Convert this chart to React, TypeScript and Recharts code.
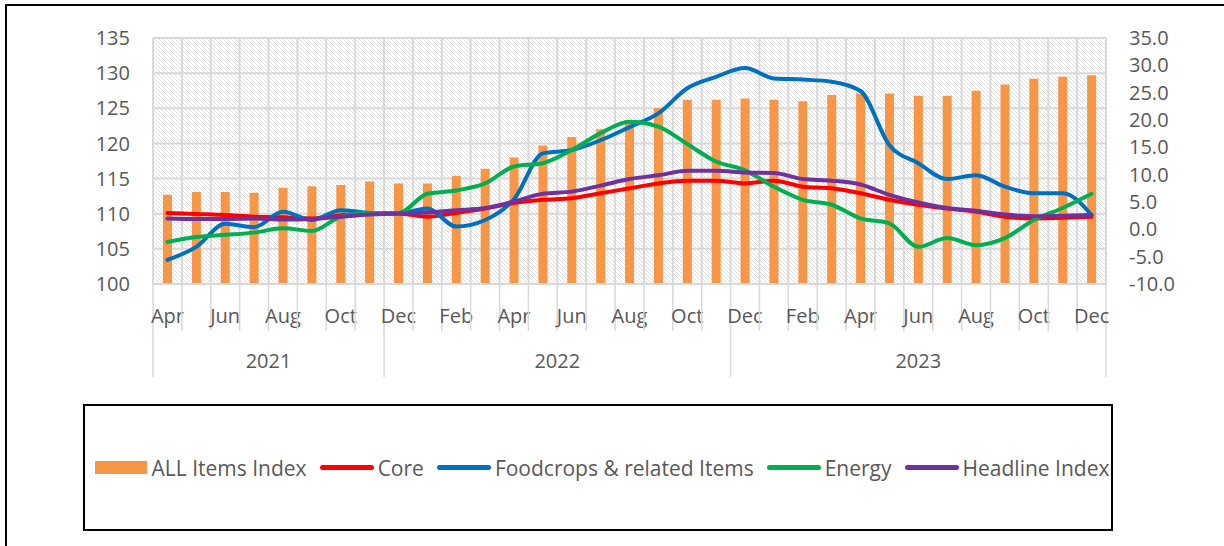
import React from "react";
import {
  ComposedChart,
  Bar,
  Line,
  XAxis,
  YAxis,
  CartesianGrid,
  Legend,
} from "recharts";

const months = [
  "Apr", "May", "Jun", "Jul", "Aug", "Sep", "Oct", "Nov", "Dec",
  "Jan", "Feb", "Mar", "Apr", "May", "Jun", "Jul", "Aug", "Sep", "Oct", "Nov", "Dec",
  "Jan", "Feb", "Mar", "Apr", "May", "Jun", "Jul", "Aug", "Sep", "Oct", "Nov", "Dec",
];

const yearLabels = ["2021", "2022", "2023"];
const yearGroupStarts = [0, 8, 20];

const allItems = [
  112.7, 113.1, 113.1, 113.0, 113.7, 113.9, 114.1, 114.6, 114.3,
  114.3, 115.4, 116.4, 118.0, 119.7, 120.9, 122.0, 123.3, 125.0, 126.2, 126.2, 126.4,
  126.2, 126.0, 126.9, 127.1, 127.1, 126.8, 126.8, 127.5, 128.4, 129.2, 129.5, 129.7,
];

const core = [
  3.0, 2.8, 2.6, 2.3, 2.2, 2.0, 2.6, 2.9, 2.9,
  2.3, 3.0, 3.8, 4.8, 5.4, 5.7, 6.6, 7.5, 8.4, 8.9, 8.9, 8.4,
  8.9, 7.8, 7.5, 6.6, 5.4, 4.5, 3.8, 3.2, 2.3, 2.0, 2.1, 2.3,
];

const foodcrops = [
  -5.6, -3.2, 1.0, 0.4, 3.2, 1.7, 3.5, 3.0, 2.9,
  3.8, 0.5, 1.7, 5.5, 13.9, 14.5, 16.3, 18.7, 21.2, 25.8, 27.9, 29.5,
  27.6, 27.4, 27.0, 25.3, 15.4, 12.1, 9.2, 9.9, 7.8, 6.6, 6.6, 2.6,
];

const energy = [
  -2.3, -1.4, -1.0, -0.6, 0.2, -0.3, 2.3, 3.0, 3.0,
  6.5, 7.1, 8.4, 11.5, 12.1, 14.5, 17.6, 19.7, 18.8, 15.6, 12.4, 10.8,
  7.8, 5.4, 4.5, 2.0, 1.1, -3.2, -1.6, -2.9, -1.6, 1.7, 3.9, 6.5,
];

const headline = [
  2.0, 1.9, 1.9, 2.0, 1.8, 1.9, 2.3, 2.7, 2.9,
  3.1, 3.5, 3.9, 5.1, 6.5, 6.9, 8.0, 9.2, 9.9, 10.7, 10.7, 10.4,
  10.3, 9.2, 8.9, 8.2, 6.3, 4.9, 3.9, 3.4, 2.7, 2.4, 2.5, 2.6,
];

const seriesOrder = ["ALL Items Index", "Core", "Foodcrops & related Items", "Energy", "Headline Index"];

const leftTicks = [100, 105, 110, 115, 120, 125, 130, 135];
const rightTicks = [-10, -5, 0, 5, 10, 15, 20, 25, 30, 35];

const data = months.map((m, i) => ({
  key: `${i}`,
  month: m,
  allItems: allItems[i],
  core: core[i],
  foodcrops: foodcrops[i],
  energy: energy[i],
  headline: headline[i],
}));

const FONT = '"Open Sans", "Noto Sans", sans-serif';
const TEXT = "#595959";
const GRID = "#d9d9d9";
const PLOT_W = 953;

function CategoryTick(props: any) {
  const { x, y, payload, index } = props;
  const i = typeof index === "number" ? index : payload.index;
  const half =
    payload && typeof payload.offset === "number" && payload.offset > 0
      ? payload.offset
      : PLOT_W / months.length / 2;
  const g = yearGroupStarts.indexOf(i);
  const isStart = g >= 0;
  const left = x - half;
  const els: any[] = [];
  els.push(
    <line key="b" x1={left} x2={left} y1={y} y2={y + (isStart ? 93 : 47)} stroke={GRID} strokeWidth={1.5} />
  );
  if (i === months.length - 1) {
    els.push(
      <line key="e" x1={x + half} x2={x + half} y1={y} y2={y + 93} stroke={GRID} strokeWidth={1.5} />
    );
  }
  if (i % 2 === 0) {
    els.push(
      <text key="m" x={x} y={y + 39} textAnchor="middle" fill={TEXT} fontSize={20} fontFamily={FONT}>
        {months[i]}
      </text>
    );
  }
  if (isStart) {
    const end = g + 1 < yearGroupStarts.length ? yearGroupStarts[g + 1] : months.length;
    const count = end - i;
    els.push(
      <text key="y" x={left + count * half} y={y + 84} textAnchor="middle" fill={TEXT} fontSize={20} fontFamily={FONT}>
        {yearLabels[g]}
      </text>
    );
  }
  return <g>{els}</g>;
}

function LegendContent(props: any) {
  const items = [...(props.payload || [])].sort(
    (a: any, b: any) => seriesOrder.indexOf(a.value) - seriesOrder.indexOf(b.value)
  );
  return (
    <div
      style={{
        display: "flex",
        justifyContent: "center",
        alignItems: "center",
        width: "100%",
        height: "100%",
        fontFamily: FONT,
        fontSize: 21,
        color: TEXT,
        whiteSpace: "nowrap",
        paddingLeft: 8,
        boxSizing: "border-box",
      }}
    >
      {items.map((e: any, k: number) => (
        <div key={k} style={{ display: "flex", alignItems: "center", marginRight: k === items.length - 1 ? 0 : 13 }}>
          {e.type === "rect" ? (
            <span style={{ display: "inline-block", width: 52, height: 13, background: e.color, marginRight: 5 }} />
          ) : (
            <span style={{ display: "inline-block", width: 54, height: 5, borderRadius: 3, background: e.color, marginRight: 4 }} />
          )}
          <span>{e.value}</span>
        </div>
      ))}
    </div>
  );
}

export default function App() {
  return (
    <div style={{ position: "absolute", left: 0, top: 0, width: 1224, height: 546, overflow: "hidden", background: "#fff" }}>
      <div
        style={{
          position: "absolute",
          left: 5,
          top: 4,
          width: 1400,
          height: 700,
          border: "2px solid #000",
        }}
      />
      <div style={{ position: "absolute", left: 0, top: 0 }}>
        <ComposedChart
          width={1224}
          height={546}
          data={data}
          margin={{ top: 38, right: 0, bottom: 162, left: 0 }}
        >
          <defs>
            <pattern id="hatch" patternUnits="userSpaceOnUse" width="4" height="4">
              <rect width="4" height="4" fill="#ffffff" />
              <path d="M-1,-1 L5,5 M-1,3 L1,5 M3,-1 L5,1" stroke="#dddddd" strokeWidth="0.9" />
            </pattern>
          </defs>
          <CartesianGrid
            yAxisId="left"
            stroke={GRID}
            strokeWidth={2}
            fill="url(#hatch)"
            fillOpacity={1}
            verticalCoordinatesGenerator={({ offset }: any) =>
              Array.from({ length: months.length + 1 }, (_, k) => offset.left + (k * offset.width) / months.length)
            }
          />
          <XAxis
            dataKey="key"
            interval={0}
            height={100}
            tickLine={false}
            tickSize={0}
            tickMargin={0}
            axisLine={{ stroke: GRID, strokeWidth: 2 }}
            tick={<CategoryTick />}
          />
          <YAxis
            yAxisId="left"
            orientation="left"
            width={153}
            domain={[100, 135]}
            ticks={leftTicks}
            interval={0}
            allowDataOverflow
            axisLine={false}
            tickLine={false}
            tickSize={0}
            tickMargin={23}
            tick={{ fill: TEXT, fontSize: 20, fontFamily: FONT }}
          />
          <YAxis
            yAxisId="right"
            orientation="right"
            width={118}
            domain={[-10, 35]}
            ticks={rightTicks}
            interval={0}
            allowDataOverflow
            axisLine={false}
            tickLine={false}
            tickSize={0}
            tickMargin={23}
            tickFormatter={(v: number) => v.toFixed(1)}
            tick={{ fill: TEXT, fontSize: 20, fontFamily: FONT }}
          />
          <Bar
            yAxisId="left"
            dataKey="allItems"
            name="ALL Items Index"
            fill="#F79646"
            barSize={9}
            legendType="rect"
            isAnimationActive={false}
          />
          <Line yAxisId="right" type="monotone" dataKey="core" name="Core" stroke="#FF0000" strokeWidth={4} strokeLinecap="round" dot={false} legendType="line" isAnimationActive={false} />
          <Line yAxisId="right" type="monotone" dataKey="foodcrops" name="Foodcrops & related Items" stroke="#0070C0" strokeWidth={4} strokeLinecap="round" dot={false} legendType="line" isAnimationActive={false} />
          <Line yAxisId="right" type="monotone" dataKey="energy" name="Energy" stroke="#00B050" strokeWidth={4} strokeLinecap="round" dot={false} legendType="line" isAnimationActive={false} />
          <Line yAxisId="right" type="monotone" dataKey="headline" name="Headline Index" stroke="#7030A0" strokeWidth={4} strokeLinecap="round" dot={false} legendType="line" isAnimationActive={false} />
          <Legend
            layout="vertical"
            align="center"
            verticalAlign="middle"
            content={<LegendContent />}
            wrapperStyle={{
              left: 83,
              top: 404,
              width: 1030,
              height: 127,
              border: "2px solid #000",
              boxSizing: "border-box",
              background: "#fff",
            }}
          />
        </ComposedChart>
      </div>
    </div>
  );
}
